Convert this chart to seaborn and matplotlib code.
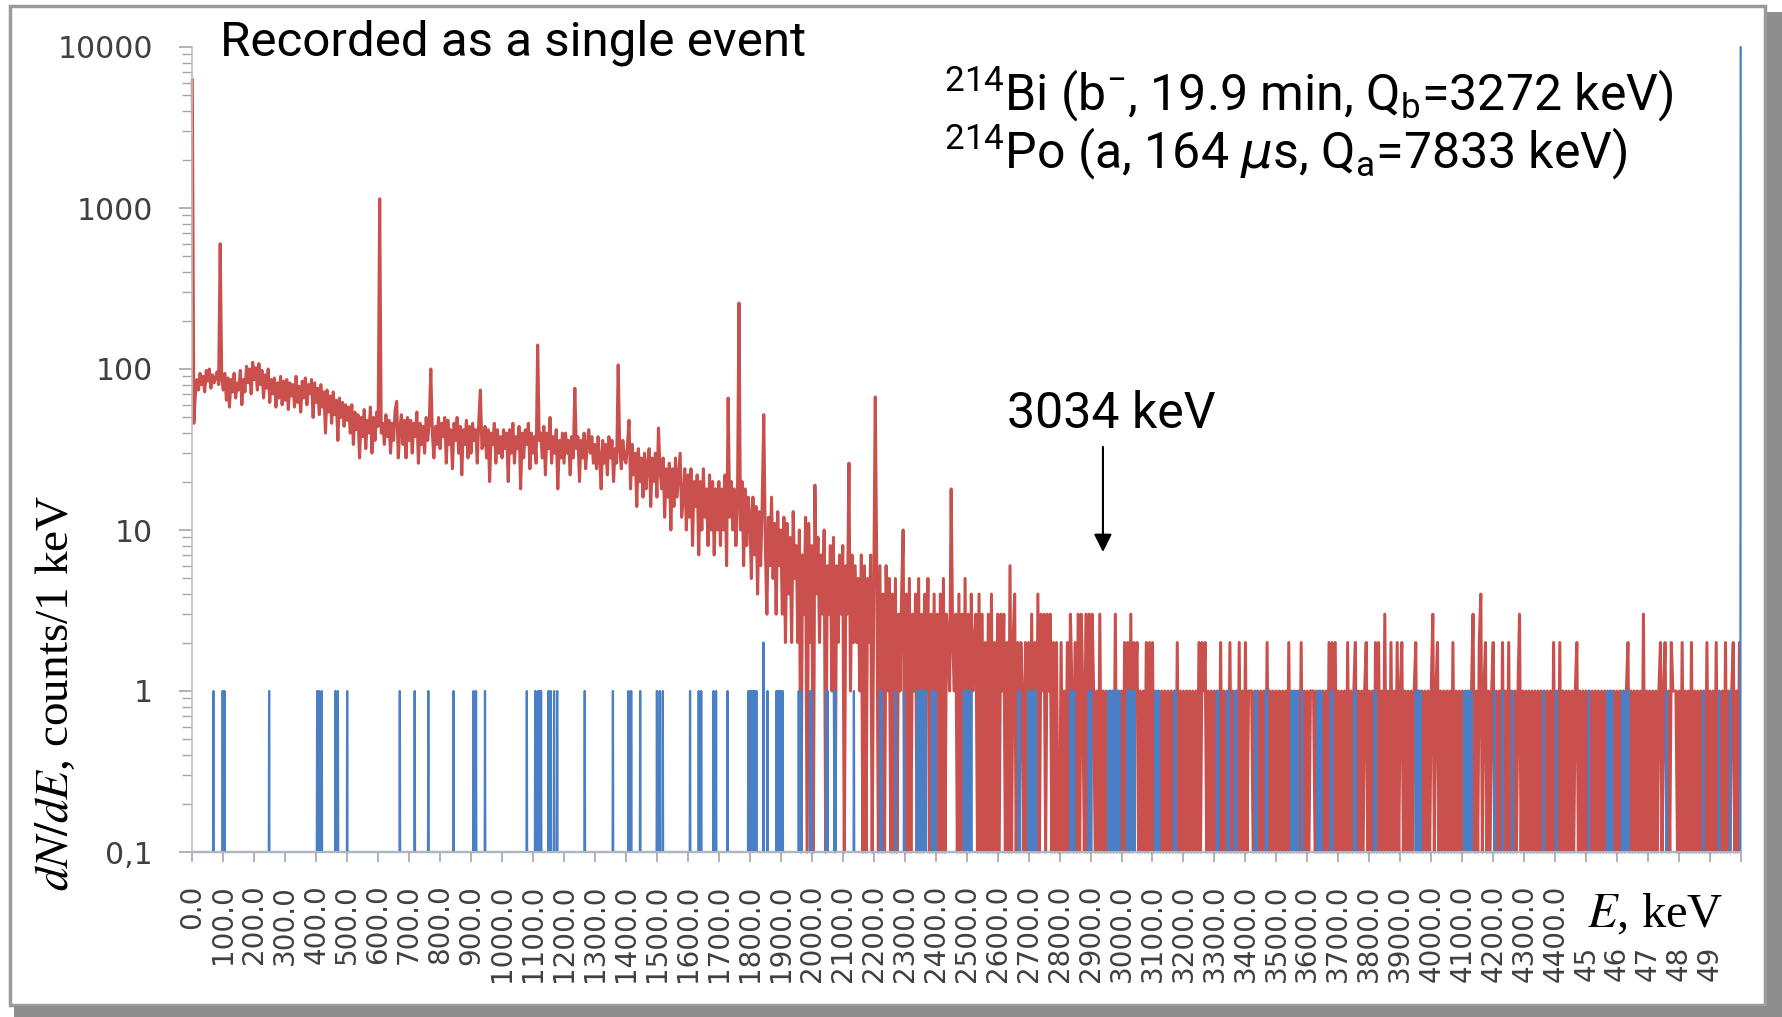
import numpy as np
import pandas as pd
import matplotlib
matplotlib.use("Agg")
import matplotlib.pyplot as plt
import matplotlib.transforms as mtransforms
import seaborn as sns
from matplotlib.patches import Rectangle
from matplotlib.ticker import FixedLocator, LogLocator, NullFormatter

# ---------------- data (counts per 1 keV, sampled every 5 keV) ----------------
BIN_KEV = 5
red_0000 = [6300, 46, 70, 86, 74, 94, 80, 90, 72, 98, 84, 100, 76, 92, 82, 88, 96, 80, 600, 86,
            74, 94, 64, 88, 58, 86, 72, 94, 66, 82, 74, 98, 60, 86, 72, 104, 82, 100, 70, 110,
            86, 102, 74, 108, 80, 98, 66, 92, 76, 100, 62, 86, 70, 88, 58, 82, 66, 90, 60, 84,
            64, 86, 56, 82, 68, 80, 58, 90, 62, 78, 54, 84, 66, 88, 60, 80, 70, 86, 50, 82,
            62, 76, 52, 80, 58, 72, 40, 74, 54, 68, 46, 72, 52, 64, 36, 66, 50, 62, 44, 60]
red_0500 = [48, 58, 40, 60, 34, 54, 42, 52, 28, 50, 38, 56, 32, 48, 40, 58, 30, 50, 36, 54,
            44, 1140, 40, 46, 34, 52, 38, 48, 30, 46, 36, 56, 63, 28, 42, 52, 34, 48, 28, 50,
            36, 48, 30, 46, 38, 54, 26, 46, 34, 44, 30, 50, 36, 46, 100, 40, 28, 44, 34, 50,
            32, 46, 38, 50, 26, 48, 34, 42, 24, 46, 36, 50, 30, 44, 22, 42, 34, 48, 28, 44,
            30, 46, 36, 42, 26, 48, 74, 32, 34, 44, 28, 42, 20, 40, 34, 46, 26, 42, 30, 38]
red_1000 = [28, 42, 32, 40, 20, 42, 30, 46, 26, 38, 32, 44, 18, 40, 28, 42, 34, 46, 24, 40,
            30, 38, 26, 141, 36, 40, 28, 44, 22, 40, 32, 50, 26, 38, 30, 42, 18, 36, 28, 40,
            26, 40, 30, 36, 22, 38, 28, 76, 32, 38, 20, 36, 28, 40, 24, 34, 42, 30, 38, 26,
            34, 24, 38, 28, 18, 36, 26, 34, 22, 38, 28, 36, 20, 32, 26, 106, 32, 24, 36, 28,
            26, 34, 48, 18, 34, 22, 30, 14, 32, 20, 28, 16, 30, 18, 26, 32, 14, 28, 20, 30]
red_1500 = [16, 43, 24, 18, 28, 12, 24, 16, 26, 10, 24, 14, 28, 16, 22, 30, 12, 16, 24, 10,
            22, 12, 24, 8, 20, 14, 22, 7, 20, 10, 24, 12, 18, 8, 22, 10, 20, 7, 18, 10,
            20, 8, 18, 10, 22, 6, 66, 12, 20, 10, 18, 8, 14, 257, 10, 20, 6, 18, 8, 16,
            12, 5, 16, 7, 14, 4, 13, 6, 15, 52, 8, 3, 12, 6, 16, 5, 11, 3, 13, 6,
            10, 3, 12, 2, 11, 4, 9, 2, 13, 5, 8, 2, 10, 0, 7, 3, 12, 0, 11, 2]
red_2000 = [8, 0, 19, 4, 9, 2, 7, 3, 10, 0, 6, 3, 8, 1, 9, 0, 6, 2, 7, 3,
            8, 0, 6, 3, 26, 1, 7, 2, 6, 2, 5, 1, 7, 0, 6, 0, 5, 2, 7, 0,
            4, 67, 5, 0, 6, 0, 4, 0, 6, 1, 5, 0, 4, 0, 5, 0, 3, 1, 4, 10,
            0, 4, 0, 5, 0, 3, 1, 4, 0, 5, 0, 3, 0, 4, 1, 5, 0, 3, 0, 4,
            0, 3, 0, 4, 0, 5, 0, 3, 2, 1, 18, 2, 1, 3, 0, 4, 0, 3, 0, 5]
red_2500 = [0, 3, 0, 4, 1, 2, 3, 0, 4, 0, 3, 0, 2, 0, 3, 0, 4, 0, 2, 0,
            3, 0, 3, 1, 3, 0, 2, 0, 6, 0, 2, 4, 0, 2, 0, 2, 1, 0, 2, 0,
            2, 0, 3, 0, 2, 0, 4, 0, 3, 1, 3, 0, 3, 1, 3, 0, 2, 0, 2, 0,
            0, 2, 0, 1, 0, 2, 0, 3, 1, 0, 2, 0, 3, 0, 3, 1, 0, 3, 0, 3,
            0, 3, 1, 0, 1, 0, 3, 0, 1, 0, 1, 0, 1, 0, 1, 0, 3, 0, 1, 0]
red_3000 = [1, 0, 2, 0, 2, 0, 3, 0, 2, 1, 2, 0, 1, 0, 1, 0, 2, 0, 2, 0,
            2, 0, 1, 0, 1, 0, 1, 0, 1, 0, 1, 0, 1, 0, 1, 0, 2, 0, 1, 0,
            1, 0, 1, 0, 1, 0, 1, 0, 1, 0, 2, 0, 2, 1, 2, 0, 1, 0, 1, 0,
            1, 0, 1, 0, 2, 0, 1, 0, 1, 0, 2, 0, 1, 0, 1, 0, 2, 0, 1, 0,
            2, 0, 1, 1, 1, 0, 1, 0, 1, 0, 1, 0, 1, 0, 2, 0, 1, 0, 1, 0]
red_3500 = [1, 0, 1, 0, 1, 0, 1, 0, 2, 0, 1, 0, 1, 0, 1, 0, 2, 0, 1, 0,
            1, 0, 1, 1, 1, 0, 1, 0, 1, 0, 1, 0, 1, 0, 2, 0, 2, 0, 2, 0,
            1, 0, 1, 0, 1, 0, 2, 0, 1, 0, 1, 2, 0, 1, 0, 1, 0, 1, 2, 0,
            1, 0, 1, 0, 2, 0, 2, 0, 1, 0, 3, 0, 1, 0, 2, 0, 1, 0, 2, 0,
            1, 2, 0, 1, 0, 1, 0, 1, 0, 1, 2, 0, 1, 0, 1, 0, 1, 0, 1, 0]
red_4000 = [1, 3, 0, 1, 2, 0, 1, 0, 1, 0, 1, 0, 1, 0, 2, 0, 1, 0, 1, 0,
            1, 0, 1, 0, 1, 0, 1, 3, 0, 1, 0, 2, 4, 0, 1, 2, 0, 1, 0, 1,
            2, 0, 1, 0, 1, 0, 2, 0, 1, 0, 2, 0, 1, 0, 1, 0, 1, 3, 0, 1,
            0, 1, 0, 1, 0, 1, 0, 1, 0, 1, 0, 1, 0, 1, 0, 1, 0, 1, 0, 2,
            0, 1, 0, 2, 0, 1, 0, 1, 0, 1, 0, 1, 0, 1, 2, 0, 1, 0, 1, 0]
red_4500 = [1, 0, 1, 0, 1, 0, 1, 0, 1, 0, 1, 0, 1, 0, 1, 0, 1, 0, 1, 0,
            1, 0, 1, 0, 1, 0, 1, 2, 0, 1, 0, 1, 0, 1, 0, 1, 0, 3, 0, 1,
            0, 1, 0, 1, 0, 1, 0, 1, 2, 0, 1, 2, 0, 1, 0, 2, 1, 1, 1, 0,
            1, 0, 2, 0, 1, 0, 1, 0, 2, 0, 1, 0, 1, 0, 1, 0, 1, 0, 2, 0,
            1, 0, 1, 0, 2, 0, 1, 0, 1, 0, 2, 0, 1, 0, 1, 2, 0, 1, 0, 2]

# second series: 1 keV bins, zero except the energies listed
N_BINS_BLUE = 5000
blue_single_keV = [68, 98, 104, 248, 403, 410, 418, 462, 470, 500, 670, 718, 762, 843, 908, 916, 945,
                   1080, 1107, 1115, 1120, 1126, 1150, 1157, 1168, 1178, 1267, 1358, 1408, 1417, 1446,
                   1500, 1509, 1519, 1607, 1635, 1643, 1683, 1691, 1728, 1795, 1799, 1803, 1807, 1811,
                   1815, 1821, 1857, 1886, 1890, 1894, 1898, 1902, 1906, 1958, 1962, 1966, 1995, 1999,
                   2047, 2051, 2073, 2077, 2136, 2222, 2226, 2271, 2298, 2340, 2344, 2348, 2352, 2356,
                   2360, 2364, 2368, 2388, 2392, 2396, 2400, 2491, 2495, 2499, 2503, 2507, 2511, 2515,
                   2668, 2672, 2700, 2704, 2708, 2712, 2716, 2720, 2724, 2835, 2839, 2843, 2847, 2894,
                   2898, 2902, 2958, 2962, 2966, 2970, 2974, 2978, 2982, 2986, 2990, 2994, 3018, 3022,
                   3026, 3030, 3034, 3038, 3042, 3109, 3113, 3117, 3121, 3170, 3174, 3308, 3312, 3342,
                   3346, 3366, 3370, 3432, 3436, 3466, 3470, 3549, 3553, 3557, 3561, 3565, 3569, 3583,
                   3633, 3637, 3641, 3645, 3676, 3680, 3752, 3756, 3816, 3820, 3950, 3954, 3958, 3962,
                   3966, 4106, 4110, 4114, 4118, 4122, 4126, 4130, 4205, 4231, 4263, 4363, 4404, 4509,
                   4568, 4572, 4576, 4580, 4584, 4616, 4620, 4624, 4628, 4632, 4636, 4759, 4878, 4929,
                   4965]
blue_peak_keV = [1844, 4999]
blue_peak_counts = [2, 10000]

xtick_labels = ["0.0", "100.0", "200.0", "300.0", "400.0", "500.0", "600.0", "700.0", "800.0",
                "900.0", "1000.0", "1100.0", "1200.0", "1300.0", "1400.0", "1500.0", "1600.0",
                "1700.0", "1800.0", "1900.0", "2000.0", "2100.0", "2200.0", "2300.0", "2400.0",
                "2500.0", "2600.0", "2700.0", "2800.0", "2900.0", "3000.0", "3100.0", "3200.0",
                "3300.0", "3400.0", "3500.0", "3600.0", "3700.0", "3800.0", "3900.0", "4000.0",
                "4100.0", "4200.0", "4300.0", "4400.0"]
xtick_labels_short = ["45", "46", "47", "48", "49"]   # last labels, only their lower part shows
ytick_values = [0.1, 1, 10, 100, 1000, 10000]
ytick_labels = ["0,1", "1", "10", "100", "1000", "10000"]
arrow_keV = 2940
arrow_from, arrow_to = 32.8, 7.3

# ---------------- assemble ----------------
Y_MIN, Y_MAX = 0.1, 10000
red = np.array(red_0000 + red_0500 + red_1000 + red_1500 + red_2000 +
               red_2500 + red_3000 + red_3500 + red_4000 + red_4500, dtype=float)
red_E = np.arange(len(red)) * BIN_KEV
blue = np.zeros(N_BINS_BLUE)
blue[blue_single_keV] = 1
blue[blue_peak_keV] = blue_peak_counts
blue_E = np.arange(N_BINS_BLUE)

df_red = pd.DataFrame({"E": red_E, "N": np.clip(red, Y_MIN, None)})
df_blue = pd.DataFrame({"E": blue_E, "N": np.clip(blue, Y_MIN, None)})

W, H = 1783, 1017
def fx(px):
    return px / W
def fy(py):
    return 1 - py / H

sns.set_theme(style="white")
plt.rcParams["font.family"] = ["DejaVu Sans"]

TICK_FONT = "DejaVu Sans"
TICK_COLOR = "#404040"
AX_TOP, AX_BOTTOM = 47, 852

fig = plt.figure(figsize=(W / 100, H / 100), dpi=100)
fig.patch.set_facecolor("white")
ax = fig.add_axes([fx(192.3), fy(AX_BOTTOM), (1741 - 192.3) / W, (AX_BOTTOM - AX_TOP) / H])
ax.set_facecolor("white")

sns.lineplot(data=df_red, x="E", y="N", ax=ax, color="#C9504D", linewidth=2.2,
             estimator=None, sort=False)
sns.lineplot(data=df_blue, x="E", y="N", ax=ax, color="#4A7FC6", linewidth=1.6,
             estimator=None, sort=False)
for ln in ax.lines:
    ln.set_clip_on(False)

ax.set_yscale("log")
ax.set_ylim(Y_MIN, Y_MAX)
ax.set_xlim(0, 5000)

ax.yaxis.set_major_locator(FixedLocator(ytick_values))
ax.yaxis.set_minor_locator(LogLocator(base=10, subs=np.arange(2, 10)))
ax.yaxis.set_minor_formatter(NullFormatter())
ax.set_yticklabels(ytick_labels, fontsize=21.5, fontfamily=TICK_FONT, color=TICK_COLOR)

xt = np.arange(0, 5001, 100)
n_full = len(xtick_labels)
ax.set_xticks(xt)
ax.set_xticklabels(xtick_labels + [""] * (len(xt) - n_full), fontsize=20, fontfamily=TICK_FONT,
                   color=TICK_COLOR, rotation=90, ha="center", va="top")

# lower parts of the last five labels (their tops are hidden behind the axis title box)
blend = mtransforms.blended_transform_factory(ax.transData, ax.transAxes)
y_label_bottom = -(980.7 - AX_BOTTOM) / (AX_BOTTOM - AX_TOP)
for e, lab in zip(xt[n_full:n_full + len(xtick_labels_short)], xtick_labels_short):
    ax.text(e, y_label_bottom, lab, transform=blend, rotation=90, ha="center", va="bottom",
            fontsize=20, family=TICK_FONT, color=TICK_COLOR, clip_on=False)

ax.tick_params(axis="x", which="major", bottom=True, direction="out", length=7.5, width=1.2,
               color="#A6A6A6", pad=16)
ax.tick_params(axis="y", which="major", left=True, direction="out", length=9.5, width=1.2,
               color="#A6A6A6", pad=19)
ax.tick_params(axis="y", which="minor", left=True, direction="out", length=7, width=1.0,
               color="#A6A6A6")
for s in ["top", "right"]:
    ax.spines[s].set_visible(False)
ax.spines["left"].set_color("#BFBFBF")
ax.spines["bottom"].set_color("#BFBFBF")
ax.spines["left"].set_linewidth(1.2)
ax.set_xlabel("")
ax.set_ylabel("")

# arrow
ax.annotate("", xy=(arrow_keV, arrow_to), xytext=(arrow_keV, arrow_from),
            arrowprops=dict(arrowstyle="-|>,head_length=0.4,head_width=0.2", mutation_scale=27,
                            lw=1.5, color="black", shrinkA=0, shrinkB=0))

# texts
fig.text(fx(220), fy(55), "Recorded as a single event", fontsize=35.5, family="Roboto",
         color="black", va="baseline", ha="left")
fig.text(fx(944), fy(110),
         r"$^{\mathregular{214}}$Bi (b$^{\mathregular{−}}$, 19.9 min, Q$_{\mathregular{b}}$=3272 keV)",
         fontsize=36, family="Roboto", math_fontfamily="dejavusans", color="black",
         va="baseline", ha="left")
fig.text(fx(944), fy(168),
         r"$^{\mathregular{214}}$Po (a, 164 $\mu$s, Q$_{\mathregular{a}}$=7833 keV)",
         fontsize=36, family="Roboto", math_fontfamily="dejavusans", color="black",
         va="baseline", ha="left")
fig.text(fx(1007), fy(428), "3034 keV", fontsize=36, family="Roboto", color="black",
         va="baseline", ha="left")
fig.text(fx(56), fy(693), r"$dN/dE$, counts/1 keV", rotation=90, fontsize=34,
         family="Liberation Serif", math_fontfamily="stix", color="black",
         ha="center", va="center")
fig.text(fx(1723), fy(927), r"$E$, keV", fontsize=35, family="Liberation Serif",
         math_fontfamily="stix", color="black", ha="right", va="baseline", zorder=3)

# picture frame with shadow
fig.add_artist(Rectangle((fx(10), fy(1005)), (1765 - 10) / W, (1005 - 6) / H,
                         transform=fig.transFigure, fill=False, ec="#9B9B9B", lw=2.5))
fig.add_artist(Rectangle((fx(1767), 0), 16 / W, fy(12), transform=fig.transFigure,
                         fc="#8E8E8E", ec="none"))
fig.add_artist(Rectangle((fx(14), 0), (W - 14) / W, 11 / H, transform=fig.transFigure,
                         fc="#8E8E8E", ec="none"))

fig.savefig("out.png", dpi=100, facecolor="white")
